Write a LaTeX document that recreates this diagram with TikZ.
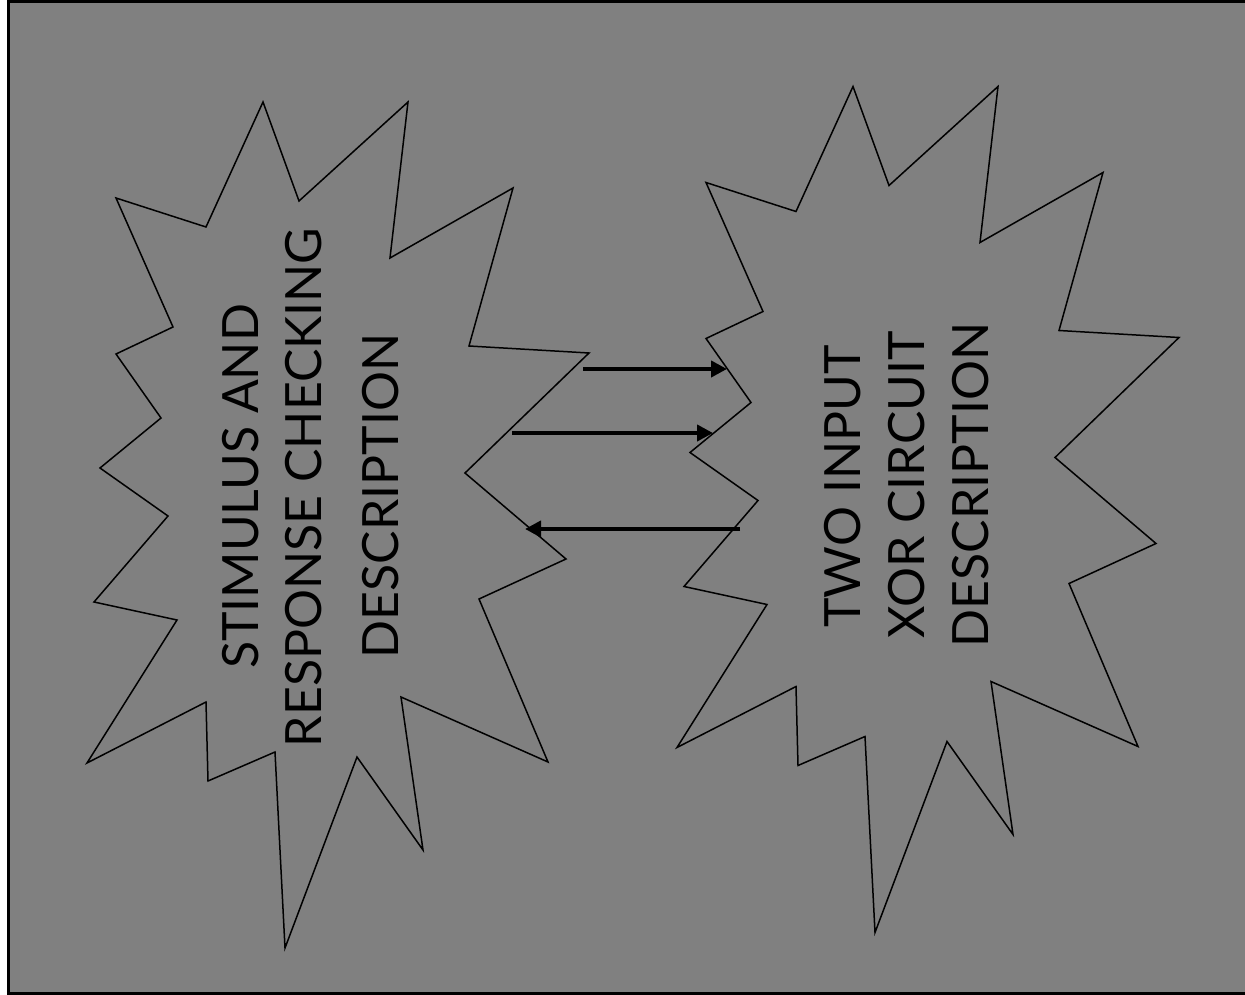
\documentclass[tikz,border=0pt]{standalone}
\usepackage{fontspec}
\setmainfont{Lato}
\usetikzlibrary{arrows.meta}
\tikzset{
  label text/.style={rotate=90,inner sep=0pt,font=\fontsize{50}{56}\selectfont},
  flow/.style={line width=4.5pt,-{Triangle[length=16pt,width=16pt]}}
}
% outline of one burst, in pixels of the picture
\newcommand{\burstpath}{(263,102)--(299,201)--(408,102)--(390,258)--(513,188)--(469,346)--(589,353)--(465,473)--(566,559)--(479,599)--(548,762)--(401,697)--(423,850)--(357,757)--(285,948)--(275,752)--(208,781)--(206,702)--(87,763)--(177,620)--(94,602)--(168,516)--(100,468)--(161,418)--(116,354)--(173,327)--(116,198)--(206,227)--cycle}
\begin{document}
\begin{tikzpicture}[x=1pt,y=-1pt]
\useasboundingbox (0,0) rectangle (1245,995);
\begin{scope}
\clip (0,0) rectangle (1245,995);
\draw[line width=3pt,fill=gray] (8.5,1.5) rectangle (1260,993.5);
\end{scope}
\draw[line width=1.5pt] \burstpath;
\draw[line width=1.5pt,shift={(590,-15.5)}] \burstpath;
\node[label text] (stim) at (240.5,486.5) {STIMULUS AND};
\node[label text] (resp) at (303.5,487.5) {RESPONSE CHECKING};
\node[label text] (descl) at (380.5,496) {DESCRIPTION};
\node[label text] (two) at (843,486.5) {TWO INPUT};
\node[label text] (xor) at (906.5,485) {XOR CIRCUIT};
\node[label text] (descr) at (971,485) {DESCRIPTION};
\coordinate (a1) at (583,369);
\coordinate (b1) at (727,369);
\coordinate (a2) at (512,433);
\coordinate (b2) at (713,433);
\coordinate (a3) at (740,529);
\coordinate (b3) at (525,529);
\draw[flow] (a1) -- (b1);
\draw[flow] (a2) -- (b2);
\draw[flow] (a3) -- (b3);
\end{tikzpicture}
\end{document}
